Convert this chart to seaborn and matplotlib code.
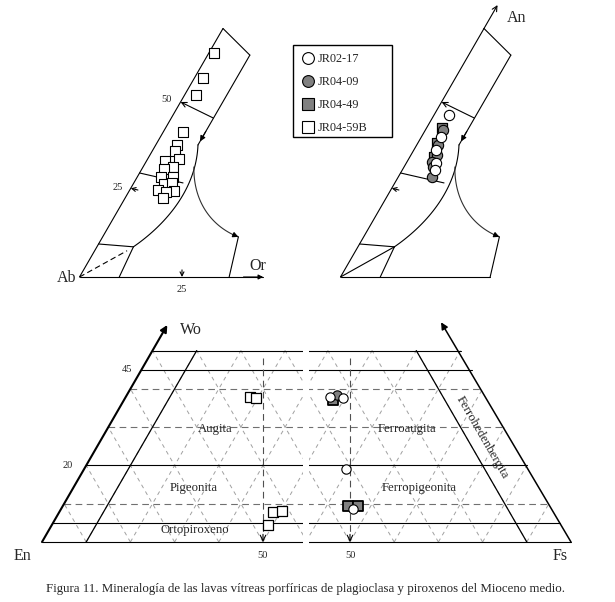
import numpy as np
import pandas as pd
import seaborn as sns
import matplotlib.pyplot as plt
from matplotlib.patches import Rectangle
from matplotlib.lines import Line2D

sns.set_style('white')
plt.rcParams['font.family'] = ['Liberation Serif', 'DejaVu Serif']

# ---- feldspar data (An %, Or %)
f59b_an = [63.1, 56.1, 51.3, 40.8, 37.2, 35.5, 33.2, 32.7, 31.0, 30.4, 28.2, 28.2, 26.2, 26.5, 24.5, 24.2, 23.9, 22.3]
f59b_or = [1.3, 2.1, 2.8, 4.8, 5.2, 5.6, 7.7, 4.6, 7.3, 5.4, 5.8, 8.7, 7.5, 9.4, 6.8, 10.9, 9.1, 9.3]
f17_an = [45.6, 39.4, 35.8, 32.1, 30.1]
f17_or = [3.7, 4.8, 5.4, 7.2, 7.9]
f09_an = [41.4, 37.2, 34.4, 32.4, 31.0, 28.2]
f09_or = [4.3, 5.2, 6.3, 6.1, 7.1, 8.2]
f49_an = [42.0, 37.7, 33.8]
f49_or = [3.8, 4.6, 5.9]

# ---- pyroxene data (Wo %, Fs %)
p59b_wo = [37.9, 37.6, 7.8, 8.1, 4.4]
p59b_fs = [28.1, 29.6, 48.4, 50.2, 48.9]
p17_wo = [37.9, 37.6, 19.1, 8.6]
p17_fs = [26.6, 29.6, 39.6, 46.4]
p09_wo = [38.4]
p09_fs = [27.9]
p49_wo = [37.1, 9.4, 9.4]
p49_fs = [27.6, 44.8, 47.1]

samples = ['JR02-17', 'JR04-09', 'JR04-49', 'JR04-59B']
GRAY = '#808080'


def fx(an, orr, x0):
    # ternary Ab-An-Or -> figure pixels
    an = np.asarray(an, float)
    orr = np.asarray(orr, float)
    return x0 + (orr + an / 2) * 4.1, 277 - an * 3.55


def px(wo, fs, shift=0):
    wo = np.asarray(wo, float)
    fs = np.asarray(fs, float)
    return 42 + (fs + wo / 2) * 4.42 + shift, 542 - wo * 3.828


def bez(p0, p1, p2, p3, n=40):
    t = np.linspace(0, 1, n)[:, None]
    p = [np.array(q, float) for q in (p0, p1, p2, p3)]
    c = (1 - t) ** 3 * p[0] + 3 * (1 - t) ** 2 * t * p[1] + 3 * (1 - t) * t ** 2 * p[2] + t ** 3 * p[3]
    return c[:, 0], c[:, 1]


fig = plt.figure(figsize=(6.15, 6.02), dpi=100)
ax = fig.add_axes([0, 0, 1, 1])
ax.set_xlim(0, 615)
ax.set_ylim(602, 0)
ax.axis('off')

lw = 0.8


def seg(a, b, x0, **kw):
    x, y = fx([a[0], b[0]], [a[1], b[1]], x0)
    ax.plot(x, y, color=kw.pop('color', 'black'), lw=kw.pop('lw', lw), **kw)


def arr(a, b, x0, style='->', ms=8):
    xa, ya = fx(a[0], a[1], x0)
    xb, yb = fx(b[0], b[1], x0)
    ax.annotate('', xy=(xb, yb), xytext=(xa, ya),
                arrowprops=dict(arrowstyle=style, color='black', lw=lw, mutation_scale=ms,
                                shrinkA=0, shrinkB=0))


def feldspar(x0, left):
    if left:
        seg((0, 0), (70, 0), x0)
        seg((0, 0), (0, 44.8), x0)
        arr((0, 40), (0, 44.8), x0, '-|>', 7)
    else:
        seg((0, 0), (0, 36.5), x0)
        arr((70, 0), (76.6, 0), x0, '->', 9)
        seg((0, 0), (70, 0), x0)
    seg((70, 0), (62.5, 10.3), x0)
    seg((62.5, 10.3), (37.2, 10.3), x0)
    arr((41, 10.3), (38.2, 10.3), x0, '-|>', 8)
    # field boundary and curved arrow
    bx, by = bez(fx(37.2, 10.3, x0), fx(24.5, 16.2, x0), fx(14.6, 13.5, x0), fx(8.5, 8.9, x0))
    ax.plot(bx, by, color='black', lw=lw)
    cx, cy = bez(fx(31.0, 12.4, x0), fx(20.3, 17.6, x0), fx(13.8, 26.1, x0), fx(11.3, 33.1, x0))
    ax.plot(cx, cy, color='#303030', lw=lw)
    ax.annotate('', xy=(cx[-1], cy[-1]), xytext=(cx[-4], cy[-4]),
                arrowprops=dict(arrowstyle='-|>', color='black', lw=lw, mutation_scale=8,
                                shrinkA=0, shrinkB=0))
    seg((11.3, 33.1), (0, 36.5), x0)
    # tie lines
    arr((44.8, 10.2), (49.3, 0), x0, '->', 9)
    seg((29.3, 0), (26.5, 12.0), x0)
    arr((24.5, 2.0), (25, 0), x0, '->', 7)
    seg((9.3, 0), (8.5, 8.9), x0)
    seg((8.5, 8.9), (0, 9.7), x0)
    if left:
        seg((0, 0), (7.4, 7.9), x0, ls=(0, (5, 3)))
        arr((2, 24), (0, 25), x0, '->', 7)
    else:
        seg((0, 0), (8.5, 8.9), x0)


feldspar(79.5, True)
feldspar(340.5, False)

ax.text(76, 278, 'Ab', fontsize=11.5, ha='right', va='center')
ax.text(249, 266, 'Or', fontsize=11.5, ha='left', va='center')
ax.text(507, 18, 'An', fontsize=11.5, ha='left', va='center')
ax.text(118, 188, '25', fontsize=7.5, ha='center', va='center')
ax.text(167, 100, '50', fontsize=7.5, ha='center', va='center')
ax.text(182, 289, '25', fontsize=7.5, ha='center', va='center')

# feldspar points
x, y = fx(f59b_an, f59b_or, 79.5)
sns.scatterplot(x=x, y=y, marker='s', s=58, color='white', edgecolor='black', linewidth=0.8, ax=ax, zorder=5, legend=False)
x, y = fx(f49_an, f49_or, 340.5)
sns.scatterplot(x=x, y=y, marker='s', s=58, color=GRAY, edgecolor='black', linewidth=0.9, ax=ax, zorder=5, legend=False)
x, y = fx(f09_an, f09_or, 340.5)
sns.scatterplot(x=x, y=y, marker='o', s=55, color=GRAY, edgecolor='black', linewidth=0.8, ax=ax, zorder=6, legend=False)
x, y = fx(f17_an, f17_or, 340.5)
sns.scatterplot(x=x, y=y, marker='o', s=55, color='white', edgecolor='black', linewidth=0.8, ax=ax, zorder=7, legend=False)

# ---- pyroxene quadrilateral, two overlapping pieces
pieces = [(0, 0, 303), (87, 309, 615)]
for shift, xa, xb in pieces:
    clip = Rectangle((xa, 0), xb - xa, 602, transform=ax.transData)
    arts = []
    for v in range(10, 100, 10):
        w = min(50, 100 - v)
        x, y = px([0, w], [v, v], shift)
        arts += ax.plot(x, y, color='#a0a0a0', lw=0.7, ls=(0, (4, 4)))
        x, y = px([0, w], [100 - v, 100 - v - w], shift)
        arts += ax.plot(x, y, color='#a0a0a0', lw=0.7, ls=(0, (4, 4)))
    for w in [10, 30, 40]:
        x, y = px([w, w], [0, 100 - w], shift)
        arts += ax.plot(x, y, color='#707070', lw=0.8, ls=(0, (6, 4)))
    for w in [0, 5, 20, 45, 50]:
        x, y = px([w, w], [0, 100 - w], shift)
        arts += ax.plot(x, y, color='black', lw=0.8)
    x, y = px([0, 50], [10, 10], shift)
    arts += ax.plot(x, y, color='black', lw=0.9)
    x, y = px([0, 50], [90, 40], shift)
    arts += ax.plot(x, y, color='black', lw=0.9)
    x, y = px([48, 2], [26, 49], shift)
    arts += ax.plot(x, y, color='#505050', lw=0.8, ls=(0, (6, 4)))
    for a in arts:
        a.set_clip_path(clip)
    x, y = px([2, 0], [49, 50], shift)
    ax.annotate('', xy=(x[1], y[1]), xytext=(x[0], y[0]),
                arrowprops=dict(arrowstyle='->', color='black', lw=0.8, mutation_scale=10, shrinkA=0, shrinkB=0))
    ax.text(x[1], 556, '50', fontsize=7.5, ha='center', va='center')

# Wo axis (left piece) and En-free edge (right piece)
x, y = px([0, 56.7], [0, 0])
ax.annotate('', xy=(x[1], y[1]), xytext=(x[0], y[0]),
            arrowprops=dict(arrowstyle='-|>', color='black', lw=1.5, mutation_scale=10, shrinkA=0, shrinkB=0))
x, y = px([0, 57.4], [100, 41.9], 87)
ax.annotate('', xy=(x[1], y[1]), xytext=(x[0], y[0]),
            arrowprops=dict(arrowstyle='-|>', color='black', lw=1.1, mutation_scale=10, shrinkA=0, shrinkB=0))

# pyroxene points
x, y = px(p59b_wo, p59b_fs)
sns.scatterplot(x=x, y=y, marker='s', s=58, color='white', edgecolor='black', linewidth=0.9, ax=ax, zorder=5, legend=False)
x, y = px(p49_wo, p49_fs, 87)
sns.scatterplot(x=x, y=y, marker='s', s=58, color=GRAY, edgecolor='black', linewidth=1.3, ax=ax, zorder=5, legend=False)
x, y = px(p09_wo, p09_fs, 87)
sns.scatterplot(x=x, y=y, marker='o', s=45, color=GRAY, edgecolor='black', linewidth=0.8, ax=ax, zorder=6, legend=False)
x, y = px(p17_wo, p17_fs, 87)
sns.scatterplot(x=x, y=y, marker='o', s=45, color='white', edgecolor='black', linewidth=0.8, ax=ax, zorder=7, legend=False)

ax.text(180, 330, 'Wo', fontsize=11.5, ha='left', va='center')
ax.text(127, 369, '45', fontsize=7.5, ha='center', va='center')
ax.text(68, 465, '20', fontsize=7.5, ha='center', va='center')
ax.text(22, 556, 'En', fontsize=11.5, ha='center', va='center')
ax.text(560, 556, 'Fs', fontsize=11.5, ha='center', va='center')
ax.text(215, 429, 'Augita', fontsize=9.2, ha='center', va='center')
ax.text(194, 488, 'Pigeonita', fontsize=9.2, ha='center', va='center')
ax.text(195, 530, 'Ortopiroxeno', fontsize=9.2, ha='center', va='center')
ax.text(407, 429, 'Ferroaugita', fontsize=9.2, ha='center', va='center')
ax.text(419, 488, 'Ferropigeonita', fontsize=9.2, ha='center', va='center')
ax.text(482, 437, 'Ferrohedenbergita', fontsize=9.2, ha='center', va='center', rotation=-60,
        rotation_mode='anchor')

# legend (frame drawn separately so it can be as wide as the original box)
ax.add_patch(Rectangle((293, 45), 99, 92, fill=False, edgecolor='black', lw=1.0, zorder=8))
handles = [
    Line2D([], [], marker='o', ls='', mfc='white', mec='black', ms=8.5, mew=0.8),
    Line2D([], [], marker='o', ls='', mfc=GRAY, mec='black', ms=8.5, mew=0.8),
    Line2D([], [], marker='s', ls='', mfc=GRAY, mec='black', ms=8.5, mew=0.8),
    Line2D([], [], marker='s', ls='', mfc='white', mec='black', ms=8.5, mew=0.8),
]
leg = ax.legend(handles, samples, loc='upper left', bbox_to_anchor=(302, 53),
                bbox_transform=ax.transData, frameon=False,
                fontsize=8.8, labelspacing=0.9, handletextpad=0.3, handlelength=1.0,
                borderpad=0.0, borderaxespad=0)

ax.text(306, 589, 'Figura 11. Mineralogía de las lavas vítreas porfíricas de plagioclasa y piroxenos del Mioceno medio.',
        fontsize=9.3, ha='center', va='center')

fig.savefig('out.png', dpi=100)
